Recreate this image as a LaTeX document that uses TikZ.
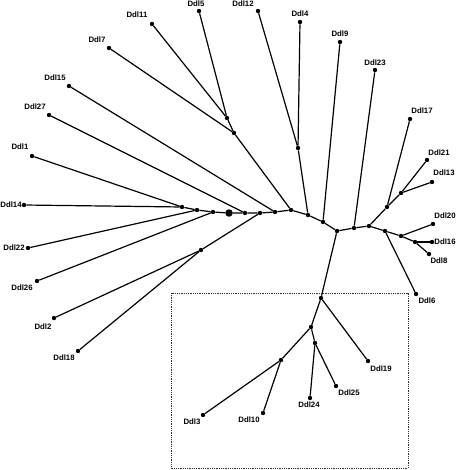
\documentclass[tikz,border=0pt]{standalone}
\usepackage{fontspec}
\setmainfont{Liberation Sans}
\begin{document}
\begin{tikzpicture}[x=1pt,y=-1pt,
  dot/.style={circle,fill=black,inner sep=0pt,minimum size=4.4pt},
  bigdot/.style={circle,fill=black,inner sep=0pt,minimum size=7.5pt},
  edge/.style={line width=1.2pt,black},
  lbl/.style={inner sep=0pt,font=\bfseries\fontsize{7.8}{8.5}\selectfont},
  boxline/.style={densely dotted,line width=0.8pt,black!80}]
\useasboundingbox (0,0) rectangle (456,470);
% backbone
\node[dot] (b1) at (182,207) {};
\node[dot] (b2) at (197,210) {};
\node[dot] (b3) at (213,212) {};
\node[bigdot] (b4) at (229,213) {};
\node[dot] (b5) at (245,213) {};
\node[dot] (b6) at (260,213) {};
\node[dot] (b7) at (275,212) {};
\node[dot] (b8) at (291,210) {};
\node[dot] (b9) at (308,215) {};
\node[dot] (b10) at (323,222) {};
\node[dot] (e) at (337,231) {};
\node[dot] (r1) at (354,228) {};
\node[dot] (r2) at (369,226) {};
\node[dot] (r3) at (385,231) {};
\node[dot] (r4) at (401,236) {};
\node[dot] (r5) at (415,242) {};
% internal nodes
\node[dot] (s) at (201,250) {};
\node[dot] (p1) at (227,118) {};
\node[dot] (p2) at (234,133) {};
\node[dot] (p3) at (298,148) {};
\node[dot] (q1) at (387,207) {};
\node[dot] (q2) at (401,193) {};
\node[dot] (a) at (321,298) {};
\node[dot] (bb) at (311,327) {};
\node[dot] (c) at (315,343) {};
\node[dot] (d) at (281,360) {};
% leaves
\node[dot] (d5) at (199,11) {};
\node[dot] (d11) at (152,24) {};
\node[dot] (d7) at (109,48) {};
\node[dot] (d15) at (69,86) {};
\node[dot] (d27) at (49,115) {};
\node[dot] (d1) at (32,156) {};
\node[dot] (d14) at (24,205) {};
\node[dot] (d22) at (28,248) {};
\node[dot] (d26) at (37,281) {};
\node[dot] (d2) at (54,318) {};
\node[dot] (d18) at (78,351) {};
\node[dot] (d12) at (258,11) {};
\node[dot] (d4) at (300,22) {};
\node[dot] (d9) at (340,42) {};
\node[dot] (d23) at (375,70) {};
\node[dot] (d17) at (410,119) {};
\node[dot] (d21) at (427,160) {};
\node[dot] (d13) at (432,182) {};
\node[dot] (d20) at (433,224) {};
\node[dot] (d16) at (432,242) {};
\node[dot] (d8) at (429,254) {};
\node[dot] (d6) at (416,294) {};
\node[dot] (d19) at (368,361) {};
\node[dot] (d25) at (336,386) {};
\node[dot] (d24) at (310,398) {};
\node[dot] (d10) at (263,413) {};
\node[dot] (d3) at (203,415) {};
% edges
\draw[edge] (b1)--(b2)--(b3)--(b4)--(b5)--(b6)--(b7)--(b8)--(b9)--(b10)--(e)--(r1)--(r2)--(r3)--(r4)--(r5);
\draw[edge] (b1)--(d14); \draw[edge] (b1)--(d1);
\draw[edge] (b2)--(d22);
\draw[edge] (b3)--(d26);
\draw[edge] (b5)--(d27);
\draw[edge] (b6)--(s); \draw[edge] (s)--(d2); \draw[edge] (s)--(d18);
\draw[edge] (b7)--(d15);
\draw[edge] (b8)--(p2); \draw[edge] (p2)--(d7); \draw[edge] (p2)--(p1);
\draw[edge] (p1)--(d5); \draw[edge] (p1)--(d11);
\draw[edge] (b9)--(p3); \draw[edge] (p3)--(d12); \draw[edge] (p3)--(d4);
\draw[edge] (b10)--(d9);
\draw[edge] (r1)--(d23);
\draw[edge] (r2)--(q1); \draw[edge] (q1)--(d17); \draw[edge] (q1)--(q2);
\draw[edge] (q2)--(d21); \draw[edge] (q2)--(d13);
\draw[edge] (r3)--(d6);
\draw[edge] (r4)--(d20);
\draw[edge] (r5)--(d16); \draw[edge] (r5)--(d8);
\draw[edge] (e)--(a); \draw[edge] (a)--(d19); \draw[edge] (a)--(bb);
\draw[edge] (bb)--(d); \draw[edge] (d)--(d3); \draw[edge] (d)--(d10);
\draw[edge] (bb)--(c); \draw[edge] (c)--(d24); \draw[edge] (c)--(d25);
% dotted box
\draw[boxline] (171,293) rectangle (408,468);
% labels
\node[lbl] (l5) at (196,4) {Ddl5};
\node[lbl] (l11) at (137,15) {Ddl11};
\node[lbl] (l7) at (97,40) {Ddl7};
\node[lbl] (l15) at (55,78) {Ddl15};
\node[lbl] (l27) at (35,107) {Ddl27};
\node[lbl] (l1) at (20,147) {Ddl1};
\node[lbl] (l14) at (11,205) {Ddl14};
\node[lbl] (l22) at (14,248) {Ddl22};
\node[lbl] (l26) at (22,288) {Ddl26};
\node[lbl] (l2) at (43,327) {Ddl2};
\node[lbl] (l18) at (64,358) {Ddl18};
\node[lbl] (l12) at (243,4) {Ddl12};
\node[lbl] (l4) at (300,14) {Ddl4};
\node[lbl] (l9) at (340,34) {Ddl9};
\node[lbl] (l23) at (375,63) {Ddl23};
\node[lbl] (l17) at (422,111) {Ddl17};
\node[lbl] (l21) at (439,153) {Ddl21};
\node[lbl] (l13) at (444,173) {Ddl13};
\node[lbl] (l20) at (445,216) {Ddl20};
\node[lbl] (l16) at (445,242) {Ddl16};
\node[lbl] (l8) at (439,261) {Ddl8};
\node[lbl] (l6) at (427,301) {Ddl6};
\node[lbl] (l19) at (381,369) {Ddl19};
\node[lbl] (l25) at (349,393) {Ddl25};
\node[lbl] (l24) at (309,405) {Ddl24};
\node[lbl] (l10) at (249,420) {Ddl10};
\node[lbl] (l3) at (192,422) {Ddl3};
\end{tikzpicture}
\end{document}
